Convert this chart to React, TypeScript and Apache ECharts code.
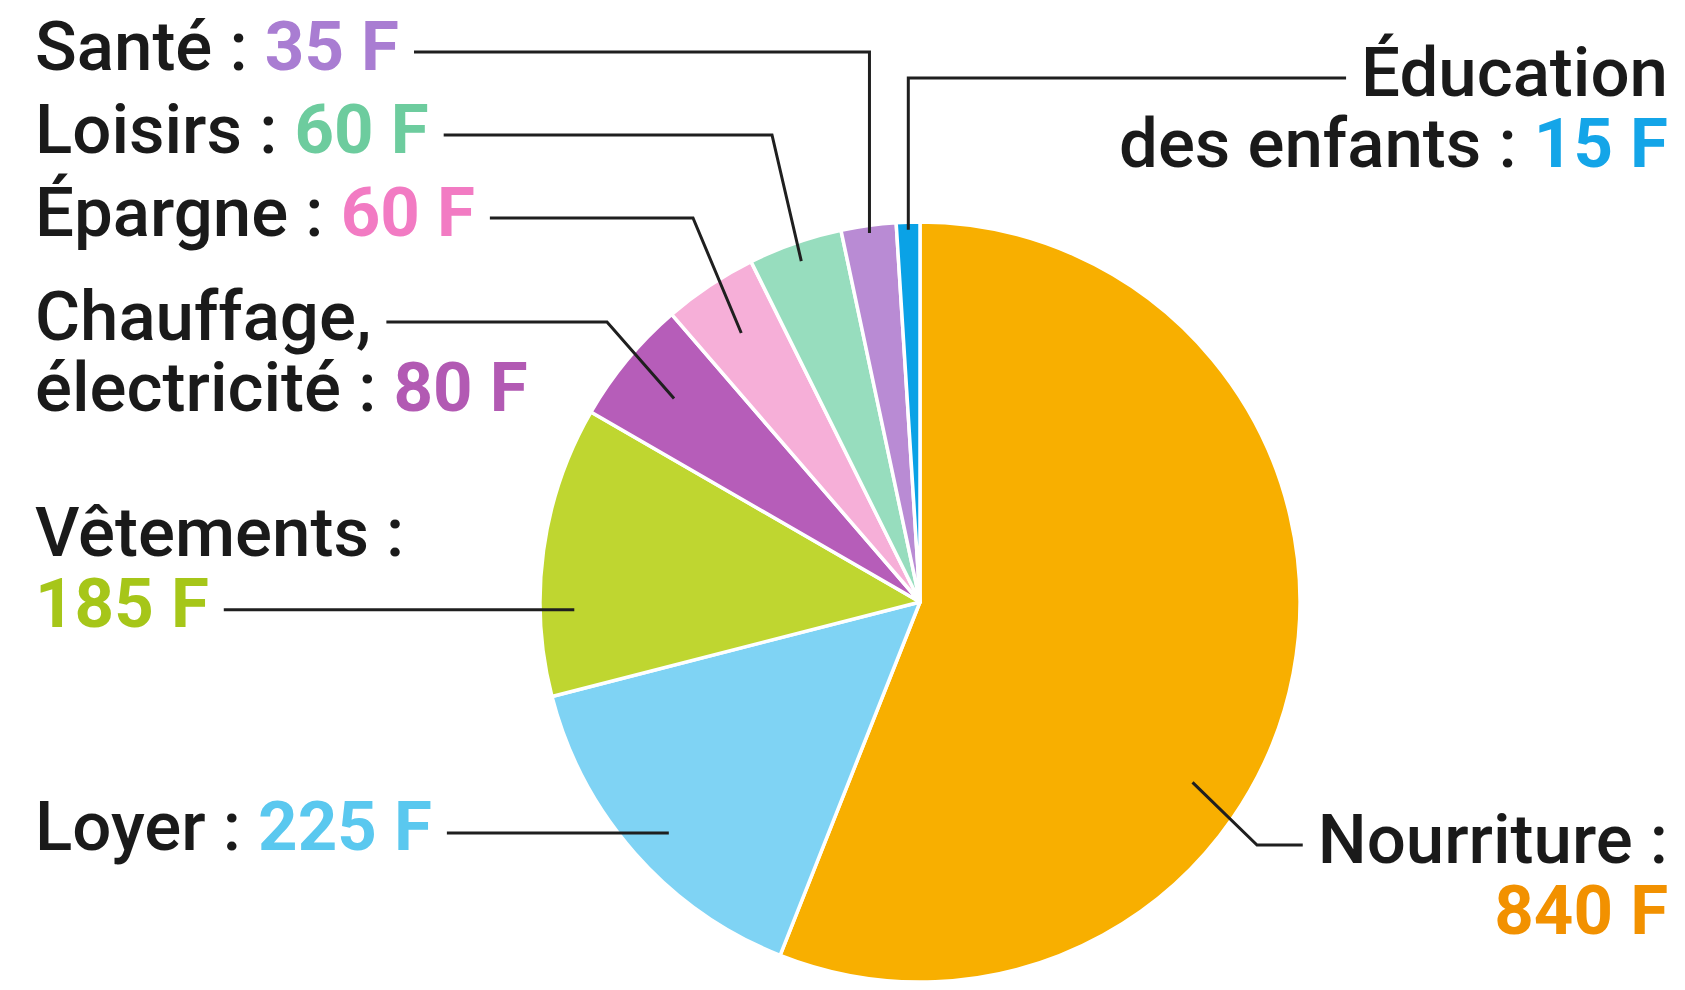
import React, { useEffect, useRef } from 'react';
import * as echarts from 'echarts';

// ---------------- data ----------------
const categories = [
  'Nourriture',
  'Loyer',
  'Vêtements',
  'Chauffage, électricité',
  'Épargne',
  'Loisirs',
  'Santé',
  'Éducation des enfants',
];
const values = [840, 225, 185, 80, 60, 60, 35, 15];
const unit = 'F';

// ---------------- styles ----------------
const sliceColors = ['#F8AF00', '#7FD3F4', '#BFD630', '#B65DB9', '#F6AFD8', '#97DDBE', '#B98BD4', '#0AA2E6'];
const valueColors = ['#F29100', '#5AC8EF', '#A6C619', '#B25AB3', '#F27BC3', '#6DCC9E', '#A97DD2', '#14A5E8'];
// how each label breaks onto lines
const labelBreaks = ['valueBelow', 'inline', 'valueBelow', 'nameBreak', 'inline', 'inline', 'inline', 'nameBreak'];

// ---------------- layout ----------------
const W = 1685;
const H = 990;
const CX = 920;
const CY = 602;
const R = 380;
const FONT = 69;
const LH = 71;
const FAMILY = 'Roboto';
const NAME_WEIGHT = 500;
const VALUE_WEIGHT = 700;
const GAP = 15;
const LINE_TEXT_OFFSET = 6;

type LabelPlace = {
  side: 'left' | 'right';
  textX: number;
  lineY?: number;
  attach: number;
  frac: number;
  deg?: number;
  elbowX?: number;
  vertical?: boolean;
};
const labelPlaces: LabelPlace[] = [
  { side: 'right', textX: 1668, lineY: 845, attach: 0, frac: 0.86, deg: 123.5, elbowX: 1257 },
  { side: 'left', textX: 35, attach: 0, frac: 0.898, deg: 227.4 },
  { side: 'left', textX: 35, attach: 1, frac: 0.91, deg: 268.7 },
  { side: 'left', textX: 35, lineY: 322, attach: 0, frac: 0.84, elbowX: 607 },
  { side: 'left', textX: 35, lineY: 218, attach: 0, frac: 0.85, elbowX: 693 },
  { side: 'left', textX: 35, lineY: 135, attach: 0, frac: 0.95, elbowX: 772 },
  { side: 'left', textX: 35, lineY: 52, attach: 0, frac: 0.98, vertical: true },
  { side: 'right', textX: 1668, lineY: 78, attach: 0, frac: 0.98, vertical: true },
];

type Seg = { t: string; s: 'n' | 'v' };

function buildLines(i: number): Seg[][] {
  const name = categories[i];
  const val = `${values[i]} ${unit}`;
  const mode = labelBreaks[i];
  if (mode === 'valueBelow') {
    return [[{ t: `${name} :`, s: 'n' }], [{ t: val, s: 'v' }]];
  }
  if (mode === 'nameBreak') {
    const k = name.indexOf(' ');
    return [
      [{ t: name.slice(0, k), s: 'n' }],
      [{ t: `${name.slice(k + 1)} : `, s: 'n' }, { t: val, s: 'v' }],
    ];
  }
  return [[{ t: `${name} : `, s: 'n' }, { t: val, s: 'v' }]];
}

let measureCtx: CanvasRenderingContext2D | null = null;
function lineWidth(line: Seg[]): number {
  if (!measureCtx) measureCtx = document.createElement('canvas').getContext('2d');
  const ctx = measureCtx!;
  let w = 0;
  for (const seg of line) {
    ctx.font = `${seg.s === 'n' ? NAME_WEIGHT : VALUE_WEIGHT} ${FONT}px ${FAMILY}`;
    w += ctx.measureText(seg.t).width;
  }
  return w;
}

function midDegrees(): number[] {
  const total = values.reduce((a, b) => a + b, 0);
  let cum = 0;
  return values.map((v) => {
    const m = ((cum + v / 2) / total) * 360;
    cum += v;
    return m;
  });
}

export default function App() {
  const ref = useRef<HTMLDivElement>(null);

  useEffect(() => {
    document.body.style.margin = '0';
    const chart = echarts.init(ref.current!, undefined, { renderer: 'svg', width: W, height: H });
    const mids = midDegrees();

    const sliceData = categories.map((name, i) => ({
      name,
      value: values[i],
      itemStyle: { color: sliceColors[i] },
    }));

    const labelData = categories.map((name, i) => ({
      name,
      value: values[i],
      label: {
        rich: {
          n: { fontFamily: FAMILY, fontSize: FONT, fontWeight: NAME_WEIGHT, color: '#1a1a1a', lineHeight: LH },
          v: { fontFamily: FAMILY, fontSize: FONT, fontWeight: VALUE_WEIGHT, color: valueColors[i], lineHeight: LH },
        },
      },
    }));

    const common = {
      type: 'pie',
      center: [CX, CY],
      radius: R,
      startAngle: 90,
      clockwise: true,
      silent: true,
      avoidLabelOverlap: false,
    };

    chart.setOption({
      animation: false,
      backgroundColor: '#ffffff',
      series: [
        {
          ...common,
          z: 2,
          itemStyle: { borderColor: '#ffffff', borderWidth: 3.5 },
          label: { show: false },
          labelLine: { show: false },
          data: sliceData,
        },
        {
          ...common,
          z: 3,
          itemStyle: { color: 'rgba(0,0,0,0)', borderWidth: 0 },
          label: {
            show: true,
            position: 'outside',
            formatter: (p: any) =>
              buildLines(p.dataIndex)
                .map((line) => line.map((seg) => `{${seg.s}|${seg.t}}`).join(''))
                .join('\n'),
          },
          labelLine: {
            show: true,
            smooth: false,
            length: 10,
            length2: 10,
            lineStyle: { color: '#1f1f1f', width: 3 },
          },
          labelLayout: (params: any) => {
            const i = params.dataIndex;
            const L = labelPlaces[i];
            const deg = (L.deg ?? mids[i]) * (Math.PI / 180);
            const r = R * L.frac;
            const ax = CX + r * Math.sin(deg);
            const ay = CY - r * Math.cos(deg);
            const lineY = L.lineY ?? ay;
            const lines = buildLines(i);
            const w = lineWidth(lines[L.attach]);
            const endX = L.side === 'left' ? L.textX + w + GAP : L.textX - w - GAP;
            let pts: number[][];
            if (L.vertical) pts = [[ax, ay], [ax, lineY], [endX, lineY]];
            else if (L.elbowX != null) pts = [[ax, ay], [L.elbowX, lineY], [endX, lineY]];
            else pts = [[ax, ay], [endX, lineY]];
            const attachCenter = lineY - LINE_TEXT_OFFSET;
            const firstCenter = attachCenter - L.attach * LH;
            const blockCenter = firstCenter + ((lines.length - 1) * LH) / 2;
            return {
              x: L.textX,
              y: blockCenter,
              align: L.side === 'left' ? 'left' : 'right',
              verticalAlign: 'middle',
              labelLinePoints: pts,
            };
          },
          data: labelData,
        },
      ],
    });

    return () => chart.dispose();
  }, []);

  return <div ref={ref} style={{ position: 'fixed', left: 0, top: 0, width: W, height: H }} />;
}
